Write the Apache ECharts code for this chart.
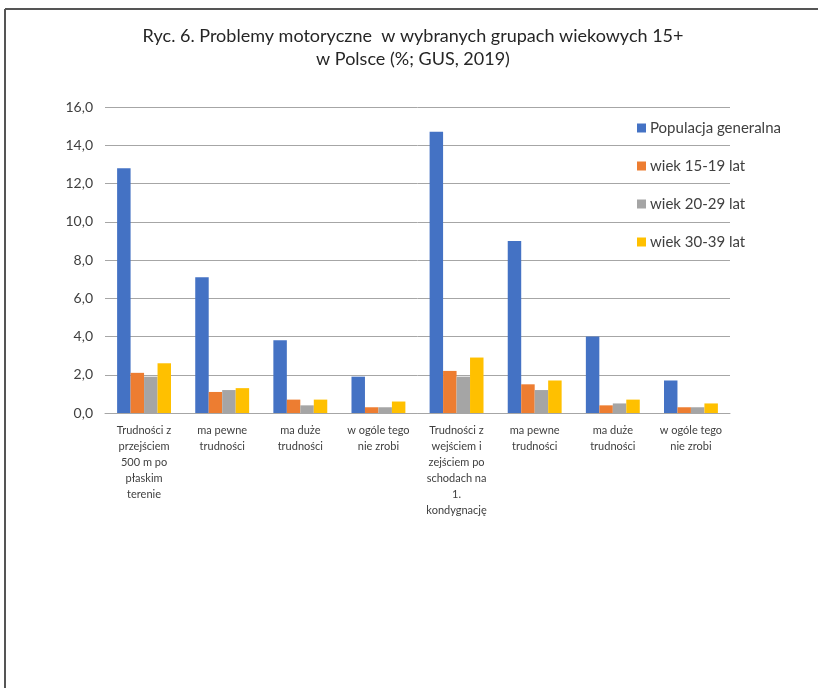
<!DOCTYPE html>
<html>
<head>
<meta charset="utf-8">
<script src="https://cdn.jsdelivr.net/npm/echarts@6/dist/echarts.min.js"></script>
<style>
  html, body { margin: 0; padding: 0; background: #fff; }
  #chart { width: 818px; height: 688px; }
</style>
</head>
<body>
<div id="chart"></div>
<script>
// Categories (two blocks of motor difficulties)
const categories = [
  'Trudności z\nprzejściem\n500 m po\npłaskim\nterenie',
  'ma pewne\ntrudności',
  'ma duże\ntrudności',
  'w ogóle tego\nnie zrobi',
  'Trudności z\nwejściem i\nzejściem po\nschodach na\n1.\nkondygnację',
  'ma pewne\ntrudności',
  'ma duże\ntrudności',
  'w ogóle tego\nnie zrobi'
];

const seriesNames = ['Populacja generalna', 'wiek 15-19 lat', 'wiek 20-29 lat', 'wiek 30-39 lat'];

// Percent values per group
const populacja = [12.8, 7.1, 3.8, 1.9, 14.7, 9.0, 4.0, 1.7];
const wiek1519  = [2.1, 1.1, 0.7, 0.3, 2.2, 1.5, 0.4, 0.3];
const wiek2029  = [1.9, 1.2, 0.4, 0.3, 1.9, 1.2, 0.5, 0.3];
const wiek3039  = [2.6, 1.3, 0.7, 0.6, 2.9, 1.7, 0.7, 0.5];

const yTicks = [0, 2, 4, 6, 8, 10, 12, 14, 16];

const colors = ['#4472C4', '#ED7D31', '#A5A5A5', '#FFC000'];
const seriesData = [populacja, wiek1519, wiek2029, wiek3039];
const FONT = 'Lato, "Liberation Sans", sans-serif';

const chart = echarts.init(document.getElementById('chart'), null, { renderer: 'canvas' });

chart.setOption({
  animation: false,
  backgroundColor: '#ffffff',
  color: colors,
  title: {
    text: 'Ryc. 6. Problemy motoryczne  w wybranych grupach wiekowych 15+\nw Polsce (%; GUS, 2019)',
    left: 408,
    textAlign: 'center',
    top: 20,
    textStyle: {
      fontFamily: FONT,
      fontSize: 18,
      fontWeight: 'normal',
      color: '#262626',
      lineHeight: 23
    }
  },
  graphic: [
    { type: 'line', shape: { x1: 5, y1: 9, x2: 818, y2: 9 }, style: { stroke: '#555555', lineWidth: 2 } },
    { type: 'line', shape: { x1: 5, y1: 9, x2: 5, y2: 688 }, style: { stroke: '#555555', lineWidth: 2 } }
  ],
  legend: {
    orient: 'vertical',
    left: 632,
    top: 114,
    itemWidth: 9,
    itemHeight: 9,
    itemGap: 20,
    icon: 'rect',
    textStyle: { fontFamily: FONT, fontSize: 15, color: '#404040', lineHeight: 18, padding: [0, 0, 0, -1] },
    data: seriesNames
  },
  grid: { left: 105, right: 88, top: 107, bottom: 275, containLabel: false },
  xAxis: {
    type: 'category',
    data: categories,
    axisTick: { show: false },
    axisLine: { lineStyle: { color: '#a6a6a6', width: 1 } },
    axisLabel: {
      interval: 0,
      margin: 9,
      fontFamily: FONT,
      fontSize: 11,
      lineHeight: 16,
      color: '#404040',
      align: 'center'
    }
  },
  yAxis: {
    type: 'value',
    min: yTicks[0],
    max: yTicks[yTicks.length - 1],
    interval: 2,
    axisLine: { show: false },
    axisTick: { show: false },
    splitLine: { lineStyle: { color: '#a6a6a6', width: 1 } },
    axisLabel: {
      margin: 12,
      fontFamily: FONT,
      fontSize: 14,
      color: '#404040',
      formatter: v => v.toFixed(1).replace('.', ',')
    }
  },
  series: seriesNames.map((name, i) => ({
    name,
    type: 'bar',
    data: seriesData[i],
    barGap: '0%',
    barCategoryGap: '31%',
    itemStyle: { color: colors[i] }
  }))
});
</script>
</body>
</html>
